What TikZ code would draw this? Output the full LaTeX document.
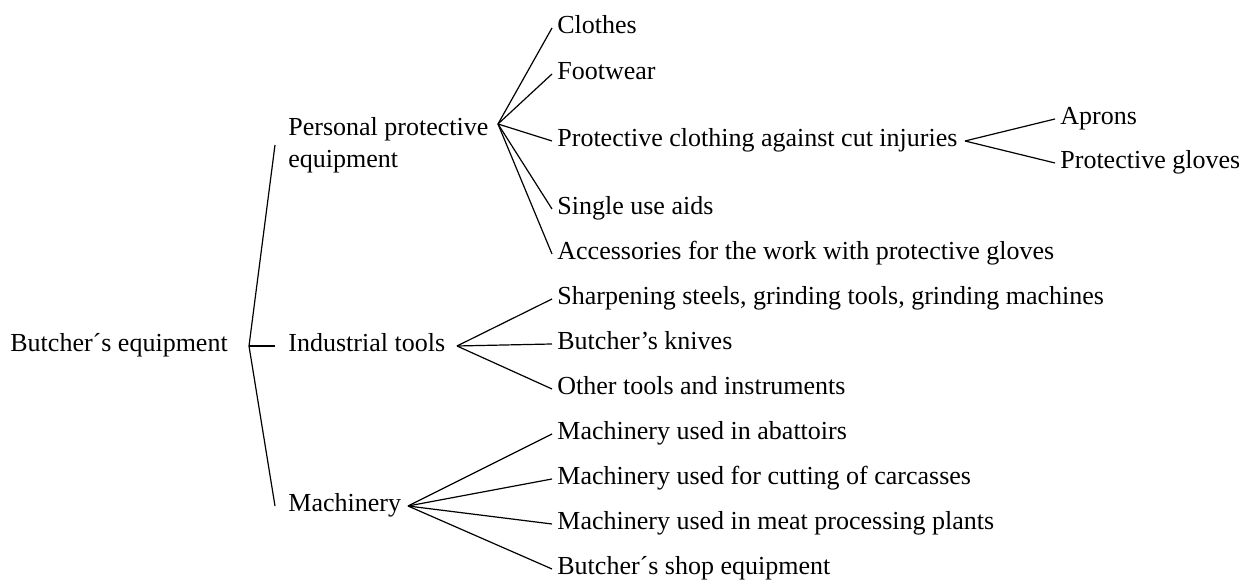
\documentclass[tikz,border=0pt]{standalone}
\usepackage{fontspec}
\setmainfont{Liberation Serif}
\begin{document}
\begin{tikzpicture}[x=0.5pt,y=-0.5pt,
  lbl/.style={font=\fontsize{13}{16}\selectfont, inner ysep=0pt, inner xsep=2.5pt,
              text height=9pt, text depth=3pt, anchor=base west},
  lvl/.style={lbl, inner xsep=6.5pt},
  link/.style={line width=0.6pt}]
\useasboundingbox (0,0) rectangle (1239,581);
% root
\node[lbl] (root) at (5,352) {Butcher´s equipment};
% level 1
\node[font=\fontsize{13}{16}\selectfont, inner ysep=0pt, inner xsep=6.5pt, align=left, anchor=west] (ppe) at (275,145) {Personal protective\\equipment};
\node[lvl] (ind) at (275,352) {Industrial tools};
\node[lvl] (mach) at (275,512) {Machinery};
% level 2
\node[lbl] (clo) at (552,34) {Clothes};
\node[lbl] (foot) at (552,80) {Footwear};
\node[lbl] (pcc) at (552,147) {Protective clothing against cut injuries};
\node[lbl] (sua) at (552,215) {Single use aids};
\node[lbl] (acc) at (552,260) {Accessories for the work with protective gloves};
\node[lbl] (sharp) at (552,305) {Sharpening steels, grinding tools, grinding machines};
\node[lbl] (knv) at (552,350) {Butcher’s knives};
\node[lbl] (oth) at (552,395) {Other tools and instruments};
\node[lbl] (abt) at (552,440) {Machinery used in abattoirs};
\node[lbl] (cut) at (552,485) {Machinery used for cutting of carcasses};
\node[lbl] (mpp) at (552,530) {Machinery used in meat processing plants};
\node[lbl] (shop) at (552,575) {Butcher´s shop equipment};
% level 3
\node[lbl] (apr) at (1055,125) {Aprons};
\node[lbl] (glv) at (1055,169) {Protective gloves};
% fan points
\coordinate (J) at (249,346);
\coordinate (P) at (498,124);
\coordinate (I) at (457,346);
\coordinate (M) at (408,506);
\coordinate (C) at (965,141);
% connectors
\draw[link] (J) -- (ppe.west);
\draw[link] (J) -- (ind.west);
\draw[link] (J) -- (mach.west);
\foreach \t in {clo,foot,pcc,sua,acc} \draw[link] (P) -- (\t.west);
\foreach \t in {sharp,knv,oth} \draw[link] (I) -- (\t.west);
\foreach \t in {abt,cut,mpp,shop} \draw[link] (M) -- (\t.west);
\foreach \t in {apr,glv} \draw[link] (C) -- (\t.west);
\end{tikzpicture}
\end{document}
